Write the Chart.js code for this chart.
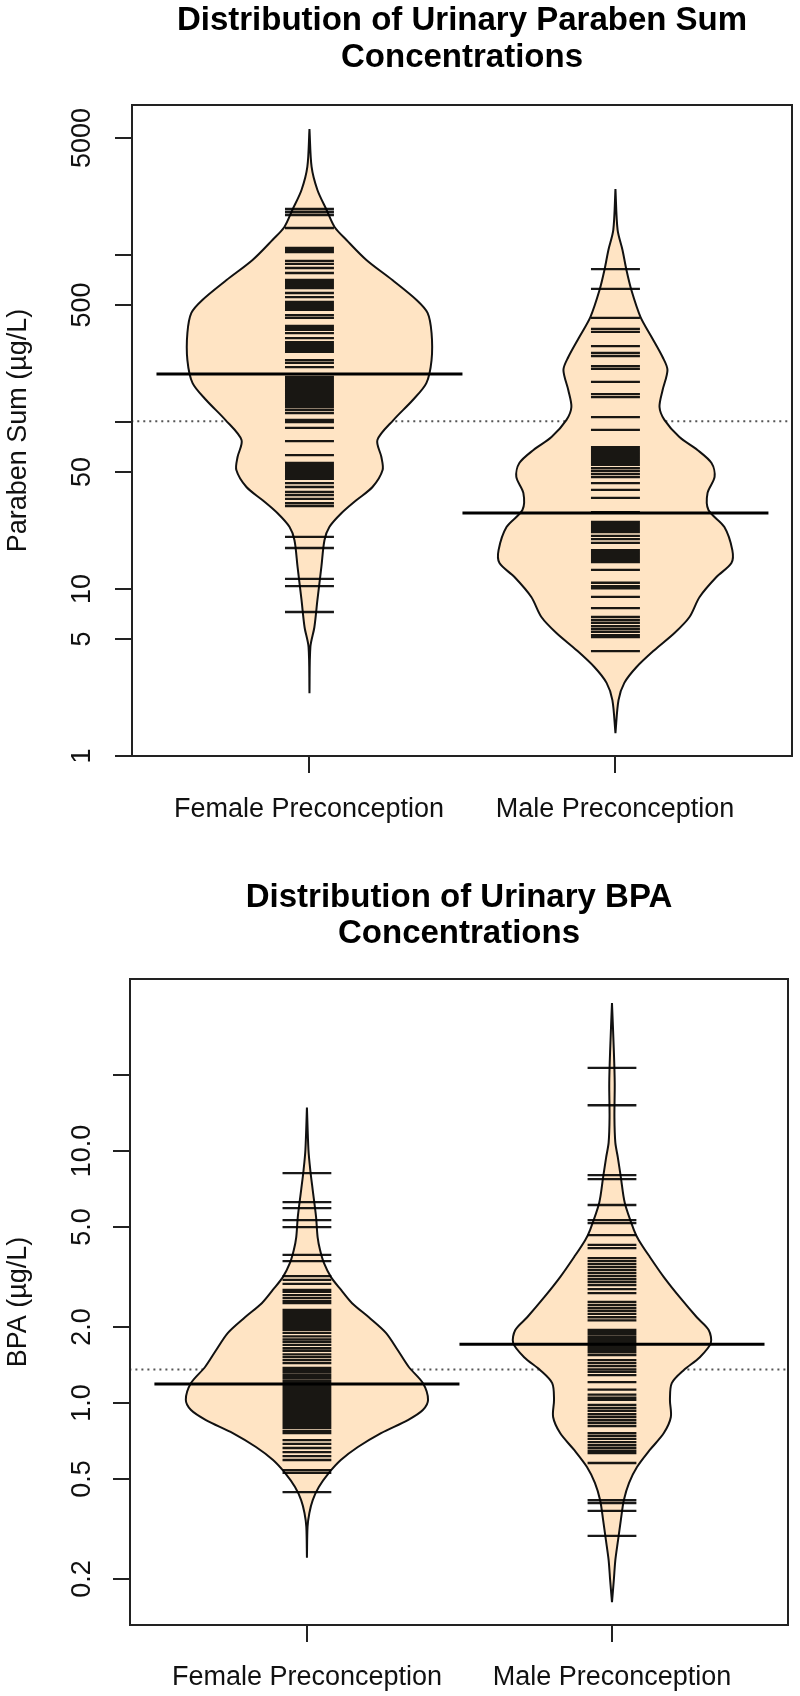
<!DOCTYPE html>
<html>
<head>
<meta charset="utf-8">
<title>Urinary paraben and BPA beanplots</title>
<script src="https://cdn.jsdelivr.net/npm/chart.js@4/dist/chart.umd.min.js"></script>
<style>
    body { margin: 0; background: #fff; }
    canvas { display: block; }
</style>
</head>
<body>
<canvas id="paraben-chart" width="800" height="848"></canvas>
<canvas id="bpa-chart" width="800" height="848"></canvas>
<script>
// Beanplots of urinary paraben sum and BPA, female vs male preconception

const groups = ['Female Preconception', 'Male Preconception'];
const groupX = [1, 2];

// Paraben sum (µg/L): bean outline (value, half width in x units), rug values, medians
const parabenTicks = [1, 5, 10, 50, 100, 500, 1000, 5000];
const parabenTickLabels = ['1', '5', '10', '50', '', '500', '', '5000'];
const parabenMedians = [194, 28.5];
const parabenOverall = 101;

const parabenFemaleBeanY = [5680, 3365, 2450, 1860, 1472, 1230, 934, 708, 538, 450, 341, 235, 171, 135, 103, 78, 61.7, 51.6, 40.8, 34.1, 28.5, 23.5, 19.6, 13.6, 8.6, 5.9, 4.5, 2.38];
const parabenFemaleBeanW = [0, 0.007, 0.026, 0.056, 0.082, 0.121, 0.186, 0.271, 0.350, 0.386, 0.399, 0.399, 0.382, 0.337, 0.275, 0.222, 0.235, 0.239, 0.206, 0.154, 0.105, 0.065, 0.049, 0.039, 0.026, 0.016, 0.003, 0];
const parabenMaleBeanY = [2485, 1413, 1072, 813, 617, 425, 323, 245, 205, 155, 123, 103, 81.3, 68, 56.8, 46.9, 37.6, 29.7, 23.5, 17.1, 14.3, 11.8, 8.96, 6.8, 5.45, 4.3, 3.41, 2.74, 2.16, 1.37];
const parabenMaleBeanW = [0, 0.007, 0.023, 0.036, 0.052, 0.082, 0.118, 0.154, 0.170, 0.154, 0.144, 0.160, 0.209, 0.268, 0.314, 0.324, 0.301, 0.304, 0.356, 0.382, 0.379, 0.330, 0.275, 0.242, 0.193, 0.127, 0.069, 0.029, 0.010, 0];

const parabenFemaleRug = [1885, 1809, 1736, 1451, 1101, 1071, 1042, 921, 884, 836, 780, 709, 689, 671, 652, 634, 592, 560, 523, 509, 495, 481, 469, 437, 420, 376, 366, 356, 341, 318, 301, 293, 285, 277, 270, 263, 235, 226, 213, 186, 181, 176, 171, 167, 162, 158, 153, 149, 145, 141, 137, 134, 130, 126, 123, 118, 113, 103, 100, 92.1, 76.9, 63.4, 56.8, 55.3, 53.8, 52.3, 50.9, 49.5, 48.2, 46.8, 45.6, 43.1, 40.8, 38.1, 36.5, 34.6, 32.7, 31.4, 20.5, 17.6, 11.5, 10.4, 7.28];
const parabenMaleRug = [824, 626, 420, 361, 346, 285, 259, 248, 216, 208, 174, 147, 141, 107, 89.6, 70.8, 68.9, 67.0, 65.2, 63.4, 61.7, 60.0, 58.4, 56.8, 55.3, 53.0, 50.9, 48.8, 46.8, 43.1, 39.2, 35.1, 28.9, 25.2, 24.5, 23.8, 23.2, 22.6, 21.9, 20.8, 19.9, 18.9, 17.1, 16.7, 16.2, 15.8, 15.3, 14.9, 14.5, 13.0, 10.9, 10.4, 10.1, 8.96, 7.69, 6.80, 6.52, 6.26, 6.00, 5.76, 5.53, 5.30, 5.16, 4.25];

// BPA (µg/L)
const bpaTicks = [0.2, 0.5, 1, 2, 5, 10, 20];
const bpaTickLabels = ['0.2', '0.5', '1.0', '2.0', '5.0', '10.0', ''];
const bpaMedians = [1.19, 1.71];
const bpaOverall = 1.36;

const bpaFemaleBeanY = [14.9, 10.1, 8.41, 7.00, 5.47, 4.56, 4.05, 3.59, 3.16, 2.81, 2.49, 2.19, 1.90, 1.62, 1.39, 1.20, 1.03, 0.938, 0.856, 0.760, 0.669, 0.594, 0.528, 0.464, 0.412, 0.366, 0.322, 0.243];
const bpaFemaleBeanW = [0, 0.005, 0.011, 0.019, 0.030, 0.035, 0.043, 0.056, 0.079, 0.112, 0.148, 0.203, 0.259, 0.298, 0.334, 0.380, 0.397, 0.380, 0.331, 0.243, 0.167, 0.111, 0.072, 0.039, 0.019, 0.008, 0.002, 0];
const bpaMaleBeanY = [38.7, 25.2, 18.6, 13.6, 10.8, 9.47, 7.88, 6.22, 4.86, 4.43, 3.80, 3.16, 2.63, 2.19, 1.95, 1.73, 1.52, 1.35, 1.20, 1.03, 0.880, 0.760, 0.651, 0.557, 0.482, 0.412, 0.343, 0.286, 0.238, 0.198, 0.162];
const bpaMaleBeanW = [0, 0.006, 0.009, 0.008, 0.011, 0.019, 0.029, 0.042, 0.072, 0.088, 0.124, 0.170, 0.222, 0.278, 0.317, 0.324, 0.288, 0.235, 0.196, 0.190, 0.193, 0.170, 0.124, 0.082, 0.056, 0.039, 0.029, 0.020, 0.011, 0.006, 0];

const bpaFemaleRug = [8.18, 6.27, 5.94, 5.32, 4.99, 3.87, 3.66, 3.19, 3.08, 2.97, 2.81, 2.76, 2.68, 2.61, 2.54, 2.49, 2.34, 2.30, 2.26, 2.21, 2.17, 2.13, 2.10, 2.06, 2.02, 1.98, 1.95, 1.90, 1.84, 1.79, 1.75, 1.70, 1.65, 1.61, 1.56, 1.52, 1.48, 1.44, 1.38, 1.35, 1.33, 1.30, 1.28, 1.26, 1.23, 1.21, 1.19, 1.17, 1.15, 1.13, 1.11, 1.09, 1.07, 1.05, 1.03, 1.01, 0.991, 0.973, 0.955, 0.938, 0.921, 0.904, 0.888, 0.872, 0.856, 0.841, 0.825, 0.810, 0.796, 0.774, 0.760, 0.713, 0.688, 0.663, 0.639, 0.616, 0.594, 0.542, 0.528, 0.443];
const bpaMaleRug = [21.4, 15.2, 8.03, 7.74, 6.11, 5.32, 5.18, 4.64, 4.24, 4.12, 3.76, 3.66, 3.56, 3.46, 3.37, 3.28, 3.19, 3.10, 3.02, 2.94, 2.83, 2.73, 2.52, 2.45, 2.38, 2.32, 2.26, 2.19, 2.13, 1.95, 1.91, 1.88, 1.84, 1.81, 1.78, 1.75, 1.71, 1.68, 1.65, 1.62, 1.59, 1.55, 1.48, 1.44, 1.40, 1.36, 1.33, 1.29, 1.21, 1.13, 1.08, 1.05, 1.03, 0.982, 0.955, 0.930, 0.904, 0.880, 0.856, 0.833, 0.810, 0.760, 0.740, 0.720, 0.700, 0.681, 0.663, 0.645, 0.633, 0.578, 0.412, 0.401, 0.373, 0.297];

const BEAN_FILL = '#FFE4C4';
const RUG_HALF = 0.08;
const MEDIAN_HALF = 0.5;
const FONT = '"Liberation Sans", Arial, Helvetica, sans-serif';

// Closed outline: down the left side, back up the right side
function beanOutline(cx, ys, ws) {
    const left = ys.map((y, i) => ({ x: cx - ws[i], y: y }));
    const right = ys.map((y, i) => ({ x: cx + ws[i], y: y })).reverse();
    return left.concat(right);
}

// One short horizontal stroke per observation, separated by gaps
function rugSegments(cx, values) {
    const pts = [];
    values.forEach(v => {
        pts.push({ x: cx - RUG_HALF, y: v });
        pts.push({ x: cx + RUG_HALF, y: v });
        pts.push({ x: cx, y: null });
    });
    return pts;
}

// Draws the R-style box, axis ticks, rotated labels and titles
const rFrame = {
    id: 'rFrame',
    afterDraw(chart, args, opts) {
        const { ctx, chartArea: a, scales } = chart;
        const xs = scales.x, ys = scales.y;
        ctx.save();
        ctx.strokeStyle = '#222';
        ctx.lineWidth = 2;
        ctx.strokeRect(a.left, a.top, a.right - a.left, a.bottom - a.top);

        ctx.fillStyle = '#111';
        ctx.font = '27px ' + FONT;

        // y ticks and labels
        opts.yTicks.forEach((v, i) => {
            const py = Math.round(ys.getPixelForValue(v));
            ctx.beginPath();
            ctx.moveTo(a.left - 17, py);
            ctx.lineTo(a.left, py);
            ctx.stroke();
            if (opts.yLabels[i]) {
                ctx.save();
                ctx.translate(opts.yLabelX, py);
                ctx.rotate(-Math.PI / 2);
                ctx.textAlign = 'center';
                ctx.textBaseline = 'alphabetic';
                ctx.fillText(opts.yLabels[i], 0, 0);
                ctx.restore();
            }
        });

        // y axis title
        ctx.save();
        ctx.translate(opts.yTitleX, (a.top + a.bottom) / 2);
        ctx.rotate(-Math.PI / 2);
        ctx.textAlign = 'center';
        ctx.textBaseline = 'alphabetic';
        ctx.fillText(opts.yTitle, 0, 0);
        ctx.restore();

        // x ticks and group labels
        ctx.textAlign = 'center';
        ctx.textBaseline = 'alphabetic';
        groupX.forEach((gx, i) => {
            const px = Math.round(xs.getPixelForValue(gx));
            ctx.beginPath();
            ctx.moveTo(px, a.bottom);
            ctx.lineTo(px, a.bottom + 17);
            ctx.stroke();
            ctx.fillText(groups[i], px, a.bottom + opts.xLabelGap);
        });

        // main title
        ctx.font = 'bold 33px ' + FONT;
        ctx.fillStyle = '#000';
        const cx = (a.left + a.right) / 2;
        opts.title.forEach((line, i) => ctx.fillText(line, cx, opts.titleY[i]));
        ctx.restore();
    }
};

function makeBeanChart(canvasId, spec) {
    const datasets = [];

    // overall reference line (dotted), behind the beans
    datasets.push({
        data: [{ x: 0.3, y: spec.overall }, { x: 2.7, y: spec.overall }],
        showLine: true,
        borderColor: '#555',
        borderWidth: 2,
        borderDash: [2, 4],
        pointRadius: 0,
        order: 4
    });

    spec.beans.forEach((bean, i) => {
        datasets.push({
            data: beanOutline(groupX[i], bean.y, bean.w),
            showLine: true,
            fill: 'shape',
            backgroundColor: BEAN_FILL,
            borderColor: '#111',
            borderWidth: 2,
            tension: 0.3,
            pointRadius: 0,
            order: 3
        });
        datasets.push({
            data: rugSegments(groupX[i], spec.rugs[i]),
            showLine: true,
            spanGaps: false,
            borderColor: 'rgba(0,0,0,0.9)',
            borderWidth: 2.3,
            pointRadius: 0,
            order: 2
        });
        datasets.push({
            data: [
                { x: groupX[i] - MEDIAN_HALF, y: spec.medians[i] },
                { x: groupX[i] + MEDIAN_HALF, y: spec.medians[i] }
            ],
            showLine: true,
            borderColor: '#000',
            borderWidth: 3,
            pointRadius: 0,
            order: 1
        });
    });

    return new Chart(document.getElementById(canvasId), {
        type: 'scatter',
        data: { datasets: datasets },
        plugins: [rFrame],
        options: {
            responsive: false,
            animation: false,
            devicePixelRatio: 1,
            events: [],
            layout: { padding: spec.padding },
            plugins: {
                legend: { display: false },
                tooltip: { enabled: false },
                rFrame: {
                    yTicks: spec.ticks,
                    yLabels: spec.tickLabels,
                    yLabelX: 90,
                    yTitleX: 26,
                    yTitle: spec.yTitle,
                    xLabelGap: spec.xLabelGap,
                    title: spec.title,
                    titleY: spec.titleY
                }
            },
            scales: {
                x: { type: 'linear', min: 0.42, max: 2.577, bounds: 'data', display: false },
                y: { type: 'logarithmic', min: spec.yMin, max: spec.yMax, bounds: 'data', display: false }
            }
        }
    });
}

makeBeanChart('paraben-chart', {
    title: ['Distribution of Urinary Paraben Sum', 'Concentrations'],
    titleY: [30, 67],
    yTitle: 'Paraben Sum (µg/L)',
    ticks: parabenTicks,
    tickLabels: parabenTickLabels,
    yMin: 1,
    yMax: 7910,
    padding: { left: 132, top: 105, right: 8, bottom: 92 },
    xLabelGap: 61,
    overall: parabenOverall,
    medians: parabenMedians,
    beans: [
        { y: parabenFemaleBeanY, w: parabenFemaleBeanW },
        { y: parabenMaleBeanY, w: parabenMaleBeanW }
    ],
    rugs: [parabenFemaleRug, parabenMaleRug]
});

makeBeanChart('bpa-chart', {
    title: ['Distribution of Urinary BPA', 'Concentrations'],
    titleY: [59, 95],
    yTitle: 'BPA (µg/L)',
    ticks: bpaTicks,
    tickLabels: bpaTickLabels,
    yMin: 0.1315,
    yMax: 48.2,
    padding: { left: 130, top: 131, right: 12, bottom: 71 },
    xLabelGap: 60,
    overall: bpaOverall,
    medians: bpaMedians,
    beans: [
        { y: bpaFemaleBeanY, w: bpaFemaleBeanW },
        { y: bpaMaleBeanY, w: bpaMaleBeanW }
    ],
    rugs: [bpaFemaleRug, bpaMaleRug]
});
</script>
</body>
</html>
